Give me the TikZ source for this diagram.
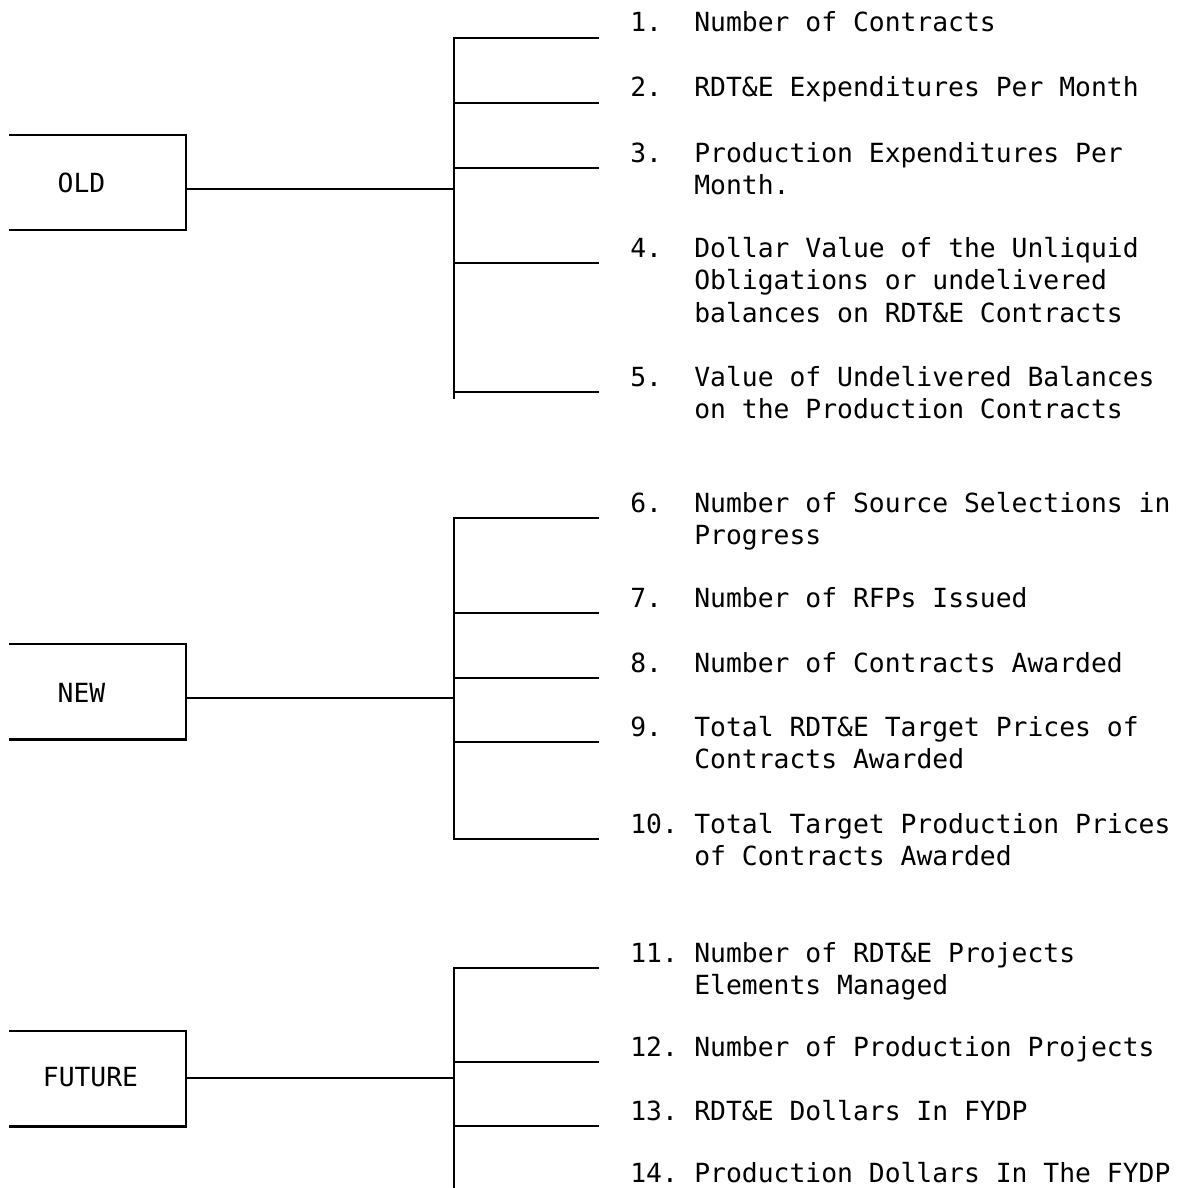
\documentclass[tikz,border=0pt]{standalone}
\usepackage{fontspec}
\setmonofont{DejaVu Sans Mono}
\newcommand\lst[1]{\begin{tabular}[t]{@{}p{12.8mm}@{}l@{}}#1\end{tabular}}

\begin{document}
\begin{tikzpicture}[
  x=0.2mm, y=-0.2mm,
  rule/.style={line width=1.3pt,line cap=rect},
  tag/.style={minimum width=35.2mm,minimum height=19mm,inner sep=0pt},
  txt/.style={font=\ttfamily\fontsize{15}{18.5}\selectfont,inner sep=0pt},
  item/.style={txt,anchor=base west}
]
\useasboundingbox (0,0) rectangle (1180,1188);

% group boxes (open on the left)
\node[tag] (old) at (98,182.5) {};
\node[tag] (new) at (98,691.5) {};
\node[tag] (fut) at (98,1078.5) {};
\foreach \b in {old,new,fut}
  \draw[rule] (\b.north west) -- (\b.north east) -- (\b.south east) -- (\b.south west);
\node[txt] (oldlbl) at (81.5,183) {OLD};
\node[txt] (newlbl) at (81.5,693) {NEW};
\node[txt] (futlbl) at (90.5,1077) {FUTURE};

% items
\node[item] (it1) at (630,32) {\lst{1.&Number of Contracts}};
\node[item] (it2) at (630,97) {\lst{2.&RDT\&E Expenditures Per Month}};
\node[item] (it3) at (630,162) {\lst{3.&Production Expenditures Per\\&Month.}};
\node[item] (it4) at (630,257) {\lst{4.&Dollar Value of the Unliquid\\&Obligations or undelivered\\&balances on RDT\&E Contracts}};
\node[item] (it5) at (630,386) {\lst{5.&Value of Undelivered Balances\\&on the Production Contracts}};
\node[item] (it6) at (630,512) {\lst{6.&Number of Source Selections in\\&Progress}};
\node[item] (it7) at (630,607) {\lst{7.&Number of RFPs Issued}};
\node[item] (it8) at (630,672) {\lst{8.&Number of Contracts Awarded}};
\node[item] (it9) at (630,736) {\lst{9.&Total RDT\&E Target Prices of\\&Contracts Awarded}};
\node[item] (it10) at (630,833) {\lst{10.&Total Target Production Prices\\&of Contracts Awarded}};
\node[item] (it11) at (630,962) {\lst{11.&Number of RDT\&E Projects\\&Elements Managed}};
\node[item] (it12) at (630,1056) {\lst{12.&Number of Production Projects}};
\node[item] (it13) at (630,1120) {\lst{13.&RDT\&E Dollars In FYDP}};
\node[txt,anchor=base west] (it14) at (630,1182) {\makebox[12.8mm][l]{14.}Production Dollars In The FYDP};

% joins on the brackets
\coordinate (oldjoin) at (454,189);
\coordinate (newjoin) at (454,698);
\coordinate (futjoin) at (454,1078);
\coordinate (oldend) at (454,398);
\coordinate (futend) at (454,1188);

% branches
\foreach \i in {1,...,5}
  \draw[rule] ([shift={(-32,6)}]it\i.base west) coordinate (tip\i) -- (tip\i -| oldjoin) coordinate (root\i);
\foreach \i in {6,...,10}
  \draw[rule] ([shift={(-32,6)}]it\i.base west) coordinate (tip\i) -- (tip\i -| newjoin) coordinate (root\i);
\foreach \i in {11,...,13}
  \draw[rule] ([shift={(-32,6)}]it\i.base west) coordinate (tip\i) -- (tip\i -| futjoin) coordinate (root\i);

% brackets and connectors
\draw[rule] (root1) -- (oldend);
\draw[rule] (root6) -- (root10);
\draw[rule] (root11) -- (futend);
\draw[rule] (old.east |- oldjoin) -- (oldjoin);
\draw[rule] (new.east |- newjoin) -- (newjoin);
\draw[rule] (fut.east |- futjoin) -- (futjoin);
\end{tikzpicture}
\end{document}
